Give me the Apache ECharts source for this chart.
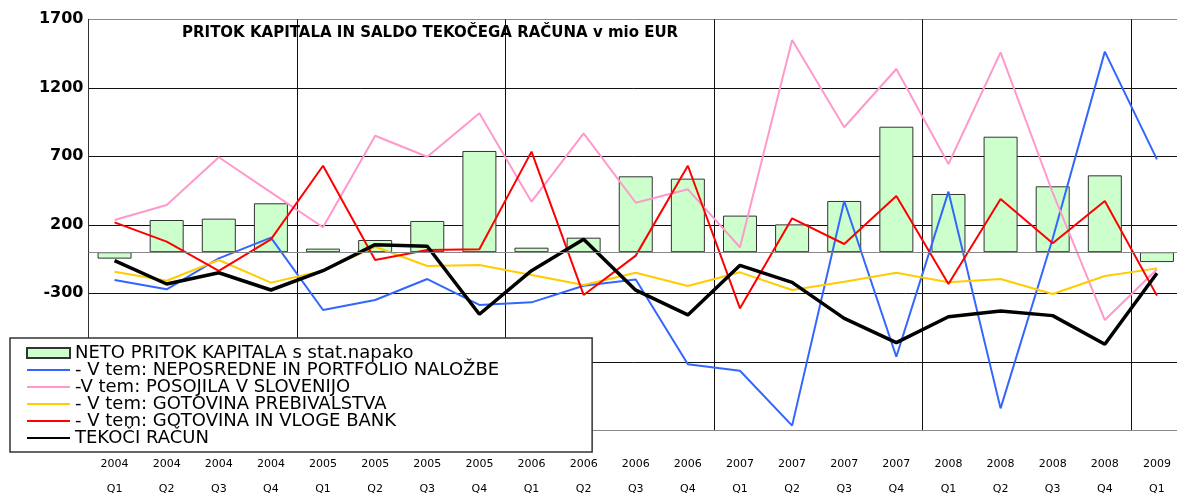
<!DOCTYPE html>
<html>
<head>
<meta charset="utf-8">
<script src="https://cdn.jsdelivr.net/npm/echarts@6/dist/echarts.min.js"></script>
<style>
  html, body { margin: 0; padding: 0; background: #fff; }
  #chart { width: 1177px; height: 493px; }
</style>
</head>
<body>
<div id="chart"></div>
<script>
// kvartali 2004 Q1 - 2009 Q1
const years = ['2004', '2004', '2004', '2004', '2005', '2005', '2005', '2005', '2006', '2006', '2006',
  '2006', '2007', '2007', '2007', '2007', '2008', '2008', '2008', '2008', '2009'];
const quarters = ['Q1', 'Q2', 'Q3', 'Q4', 'Q1', 'Q2', 'Q3', 'Q4', 'Q1', 'Q2', 'Q3',
  'Q4', 'Q1', 'Q2', 'Q3', 'Q4', 'Q1', 'Q2', 'Q3', 'Q4', 'Q1'];

const netoPritok = [-47, 235, 245, 357, 26, 89, 228, 739, 33, 106, 554, 537, 267, 203, 374, 916, 425, 843, 481, 561, -72];
const nalozbe = [-203, -271, -45, 106, -422, -349, -196, -385, -366, -245, -200, -818, -865, -1266, 374, -763, 442, -1140, 100, 1464, 678];
const posojila = [235, 345, 693, 437, 182, 850, 697, 1014, 369, 868, 361, 459, 36, 1549, 912, 1337, 644, 1459, 434, -495, -125];
const gotovinaPreb = [-142, -208, -57, -222, -135, 40, -101, -93, -166, -239, -150, -247, -147, -276, -215, -150, -220, -196, -305, -174, -118];
const vlogeBank = [218, 77, -137, 94, 631, -57, 16, 21, 734, -312, -25, 631, -410, 247, 60, 410, -232, 388, 65, 374, -317];
const tekociRacun = [-62, -232, -150, -276, -135, 55, 43, -453, -135, 94, -277, -458, -96, -220, -483, -660, -471, -429, -463, -672, -154];

const yTicks = [-1300, -800, -300, 200, 700, 1200, 1700];

const names = [
  'NETO PRITOK KAPITALA s stat.napako',
  '- V tem: NEPOSREDNE IN PORTFOLIO NALOŽBE',
  '-V tem: POSOJILA V SLOVENIJO',
  '- V tem: GOTOVINA PREBIVALSTVA',
  '- V tem: GOTOVINA IN VLOGE BANK',
  'TEKOČI RAČUN'
];

const categories = years.map((y, i) => y + '\n' + quarters[i]);

function lineSeries(name, data, color, width) {
  return {
    name: name,
    type: 'line',
    data: data,
    symbol: 'none',
    lineStyle: { color: color, width: width },
    itemStyle: { color: color }
  };
}

// legenda brez krogcev na crtah
function lineLegend(name) {
  return { name: name, itemStyle: { opacity: 0 } };
}

const myChart = echarts.init(document.getElementById('chart'));
const option = {
  animation: false,
  backgroundColor: '#fff',
  title: {
    text: 'PRITOK KAPITALA IN SALDO TEKOČEGA RAČUNA v mio EUR',
    left: 182,
    top: 26,
    padding: 0,
    textStyle: { fontFamily: 'DejaVu Sans', fontSize: 15, fontWeight: 'bold', color: '#000' }
  },
  grid: { left: 88.5, right: -6, top: 19.3, bottom: 62.7, containLabel: false, outerBoundsMode: 'none' },
  legend: {
    orient: 'vertical',
    left: 10,
    top: 338,
    padding: [6, 93, 5, 16],
    itemWidth: 43,
    itemHeight: 10,
    itemGap: -1,
    backgroundColor: '#fff',
    borderColor: '#333',
    borderWidth: 1.5,
    textStyle: { fontFamily: 'DejaVu Sans', fontSize: 18, lineHeight: 17, color: '#000' },
    data: [{ name: names[0], icon: 'rect' }, lineLegend(names[1]), lineLegend(names[2]),
      lineLegend(names[3]), lineLegend(names[4]), lineLegend(names[5])]
  },
  xAxis: {
    type: 'category',
    data: categories,
    axisLine: { onZero: false, lineStyle: { color: '#888' } },
    axisTick: { show: false },
    axisLabel: {
      interval: 0,
      margin: 21,
      lineHeight: 25,
      fontFamily: 'DejaVu Sans',
      fontSize: 11,
      color: '#000'
    },
    splitLine: { show: true, interval: 3, lineStyle: { color: '#111', width: 1 } }
  },
  yAxis: {
    type: 'value',
    min: yTicks[0],
    max: yTicks[yTicks.length - 1],
    interval: 500,
    axisLine: { show: true, lineStyle: { color: '#333' } },
    axisTick: { show: false },
    axisLabel: {
      margin: 5,
      fontFamily: 'DejaVu Sans',
      fontSize: 16,
      fontWeight: 'bold',
      color: '#000',
      formatter: function (v) { return String(v); }
    },
    splitLine: { show: true, lineStyle: { color: ['#888', '#111', '#111', '#111', '#111', '#111', '#888'], width: 1 } }
  },
  series: [
    {
      name: names[0],
      type: 'bar',
      data: netoPritok,
      barWidth: 34,
      itemStyle: { color: '#CCFFCC', borderColor: '#333', borderWidth: 1 },
      markLine: {
        silent: true,
        symbol: ['none', 'none'],
        label: { show: false },
        lineStyle: { color: '#888', type: 'solid', width: 1 },
        data: [{ yAxis: 0 }]
      }
    },
    lineSeries(names[1], nalozbe, '#3366FF', 2),
    lineSeries(names[2], posojila, '#FF99CC', 2),
    lineSeries(names[3], gotovinaPreb, '#FFCC00', 2),
    lineSeries(names[4], vlogeBank, '#FF0000', 2),
    lineSeries(names[5], tekociRacun, '#000000', 3.5)
  ]
};
option && myChart.setOption(option);
</script>
</body>
</html>
